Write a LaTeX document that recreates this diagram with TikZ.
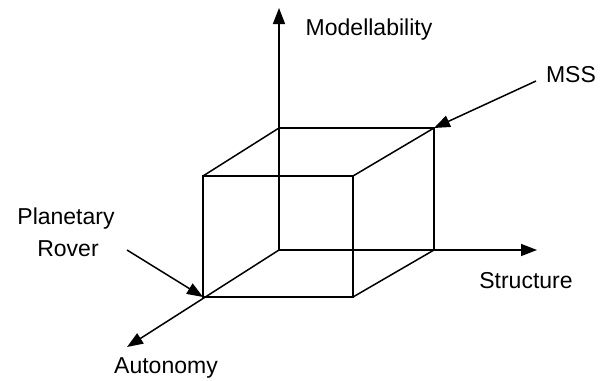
\documentclass[tikz,border=0pt]{standalone}
\usepackage{fontspec}
\setmainfont{Liberation Sans}
\usetikzlibrary{arrows.meta}

\begin{document}
\begin{tikzpicture}[x=1pt,y=-1pt,
  edge/.style={draw=black,line width=1.5pt},
  axis/.style={edge,-{Triangle[length=16pt,width=12pt]}},
  lbl/.style={anchor=base,inner sep=0pt,font=\fontsize{23}{27}\selectfont}
]
  \useasboundingbox (0,0) rectangle (601,380);

  % cube corners
  \coordinate (o)   at (279,250);
  \coordinate (btl) at (279,128);
  \coordinate (btr) at (434,128);
  \coordinate (bbr) at (434,250);
  \coordinate (ftl) at (203,176);
  \coordinate (ftr) at (353,176);
  \coordinate (fbr) at (353,297);
  \coordinate (fbl) at (203,297);

  % axis ends
  \coordinate (yend) at (279,8);
  \coordinate (xend) at (537,250);
  \coordinate (zend) at (127,347);
  \coordinate (pr)   at (127,250);
  \coordinate (ms)   at (536,81);

  \node[lbl] (model)  at (369,35)  {Modellability};
  \node[lbl] (struct) at (526,288) {Structure};
  \node[lbl] (auto)   at (166,373) {Autonomy};
  \node[lbl] (mss)    at (571,82)  {MSS};
  \node[lbl] (plan)   at (66,224)  {Planetary};
  \node[lbl] (rover)  at (68,256)  {Rover};

  \draw[axis] (o) -- (yend);
  \draw[axis] (o) -- (xend);
  \draw[axis] (o) -- (zend);

  \draw[edge] (ftl) -- (ftr) -- (fbr) -- (fbl) -- cycle;
  \draw[edge] (btl) -- (btr) -- (bbr);
  \draw[edge] (btl) -- (ftl);
  \draw[edge] (btr) -- (ftr);
  \draw[edge] (bbr) -- (fbr);

  \draw[axis] (pr) -- (fbl);
  \draw[axis] (ms) -- (btr);
\end{tikzpicture}
\end{document}
